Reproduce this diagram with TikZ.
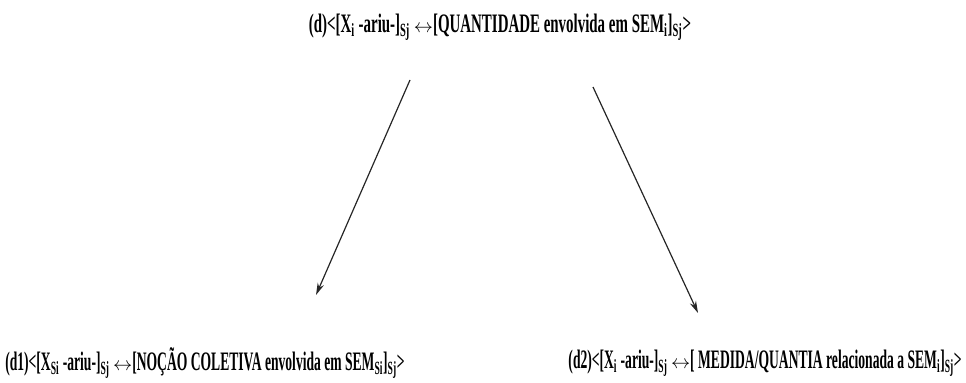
\documentclass[tikz,border=0pt]{standalone}
\usepackage{fontspec}
\usetikzlibrary{arrows.meta}
\setmainfont{Liberation Serif}[FakeStretch=0.56]
\newfontfamily\lowfont{Liberation Serif}[FakeStretch=0.51]
\newcommand{\twoway}{{\fontsize{15}{15}\selectfont$\leftrightarrow$}}

\begin{document}
\begin{tikzpicture}[
    x=0.75pt, y=-0.75pt,
    font=\bfseries\fontsize{20}{24}\selectfont,
    rule/.style={inner sep=0pt, anchor=center},
    lowrule/.style={rule, font=\lowfont\bfseries\fontsize{20}{24}\selectfont},
    link/.style={-{Stealth[length=9pt, width=5pt]}, line width=0.9pt, draw=black!85}
]

    % Frame
    \useasboundingbox (0, 0) rectangle (966, 382);

    % Constructions
    \node[rule] (d)  at (500, 27)  {(d)<[X\textsubscript{i} -ariu-]\textsubscript{Sj} \twoway[QUANTIDADE envolvida em SEM\textsubscript{i}]\textsubscript{Sj}>};
    \node[lowrule, anchor=west] (d1) at (5, 363) {(d1)<[X\textsubscript{Si} -ariu-]\textsubscript{Sj} \twoway[NOÇÃO COLETIVA envolvida em SEM\textsubscript{Si}]\textsubscript{Sj}>};
    \node[lowrule, anchor=east] (d2) at (962, 363) {(d2)<[X\textsubscript{i} -ariu-]\textsubscript{Sj} \twoway[ MEDIDA/QUANTIA relacionada a SEM\textsubscript{i}]\textsubscript{Sj}>};

    % Arrow ends
    \coordinate (a1) at (410, 80);
    \coordinate (b1) at (316, 295);
    \coordinate (a2) at (593, 87);
    \coordinate (b2) at (698, 313);

    % Arrows
    \draw[link] (a1) -- (b1);
    \draw[link] (a2) -- (b2);

\end{tikzpicture}
\end{document}
